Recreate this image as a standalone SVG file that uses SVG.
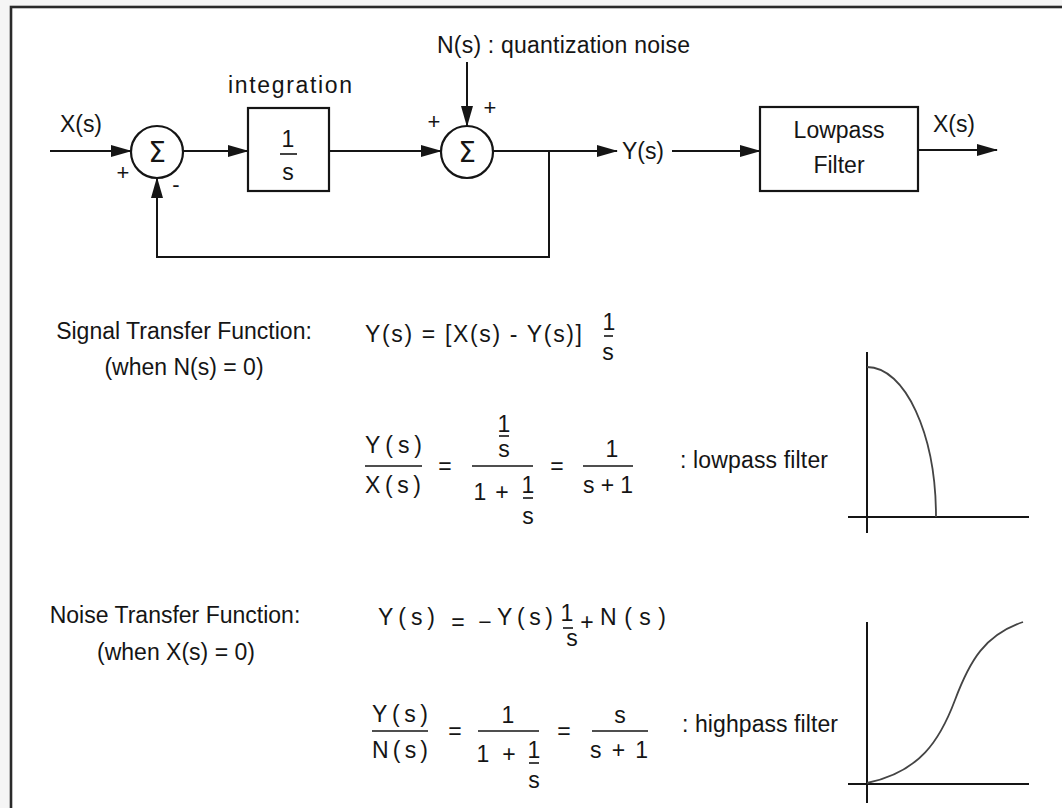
<svg xmlns="http://www.w3.org/2000/svg" width="1062" height="808" viewBox="0 0 1062 808">
<defs>
<style>
.t{font-family:"Liberation Sans",Arial,Helvetica,sans-serif;font-size:23px;fill:#151515}
.m{text-anchor:middle}
.sm{font-size:22px}
.sig{font-family:"DejaVu Sans","Liberation Sans",sans-serif;font-size:28px}
.box{fill:#fff;stroke:#151515;stroke-width:2.2}
.ln{fill:none;stroke:#151515;stroke-width:2}
.bar{stroke:#151515;stroke-width:1.6}
.ax{stroke:#151515;stroke-width:2;fill:none}
.cv{stroke:#444;stroke-width:1.8;fill:none}
</style>
<marker id="ah" markerUnits="userSpaceOnUse" markerWidth="22" markerHeight="14" refX="20" refY="6" orient="auto">
<path d="M0,0 L21,6 L0,12 Z" fill="#151515"/>
</marker>
</defs>
<rect x="0" y="0" width="1062" height="808" fill="#f5f5f5"/>
<rect x="11" y="7" width="1080" height="830" fill="#fff" stroke="#2a2a2a" stroke-width="2.6"/>

<g id="connectors">
<path class="ln" d="M50,151 H131" marker-end="url(#ah)"/>
<path class="ln" d="M183,151 H248" marker-end="url(#ah)"/>
<path class="ln" d="M329,151 H441" marker-end="url(#ah)"/>
<path class="ln" d="M467,62 V126" marker-end="url(#ah)"/>
<path class="ln" d="M493,151 H617" marker-end="url(#ah)"/>
<path class="ln" d="M549,151 V257 H157 V178" marker-end="url(#ah)"/>
<path class="ln" d="M672,151 H760" marker-end="url(#ah)"/>
<path class="ln" d="M918,150 H997" marker-end="url(#ah)"/>
</g>

<g id="input-label"><text class="t" x="60" y="132" textLength="42">X(s)</text></g>

<g id="sum1">
<circle cx="157" cy="152" r="26" class="box"/>
<text class="sig m" x="157" y="162" fill="#151515" style="font-size:28px">Σ</text>
<text class="t m sm" x="123" y="180">+</text>
<text class="t m sm" x="176" y="192">-</text>
</g>

<g id="integrator">
<text class="t" x="228" y="93" font-size="24" textLength="124">integration</text>
<rect x="248" y="108" width="81" height="83" class="box"/>
<text class="t m" x="288" y="147">1</text>
<line class="bar" x1="280" y1="154" x2="297" y2="154"/>
<text class="t m" x="288" y="180">s</text>
</g>

<g id="sum2">
<circle cx="467" cy="152" r="26" class="box"/>
<text class="sig m" x="467" y="162" fill="#151515" style="font-size:28px">Σ</text>
<text class="t m sm" x="434" y="129">+</text>
<text class="t m sm" x="490" y="115">+</text>
<text class="t" x="437" y="53" textLength="253">N(s) : quantization noise</text>
</g>

<g id="output-y"><text class="t" x="622" y="159" textLength="42">Y(s)</text></g>

<g id="lowpass">
<rect x="760" y="107" width="158" height="84" class="box"/>
<text class="t m" x="839" y="138" font-size="25">Lowpass</text>
<text class="t m" x="839" y="173" font-size="25">Filter</text>
</g>

<g id="output-x"><text class="t" x="933" y="132" textLength="42">X(s)</text></g>

<g id="signal-tf">
<text class="t m" x="184" y="339">Signal Transfer Function:</text>
<text class="t m" x="184" y="375">(when N(s) = 0)</text>
<text class="t" x="365" y="342" textLength="217">Y(s) = [X(s) - Y(s)]</text>
<text class="t m" x="609" y="330">1</text>
<line class="bar" x1="604" y1="336" x2="613" y2="336"/>
<text class="t m" x="608" y="360">s</text>

<text class="t" x="365" y="453" textLength="57">Y(s)</text>
<line class="bar" x1="365" y1="466" x2="422" y2="466"/>
<text class="t" x="365" y="493" textLength="56">X(s)</text>
<text class="t m" x="445" y="474">=</text>
<text class="t m" x="504" y="432">1</text>
<line class="bar" x1="499" y1="436" x2="509" y2="436"/>
<text class="t m" x="504" y="457">s</text>
<line class="bar" x1="472" y1="466" x2="533" y2="466"/>
<text class="t m" x="480" y="500">1</text>
<text class="t m" x="502" y="500">+</text>
<text class="t m" x="528" y="493">1</text>
<line class="bar" x1="523" y1="498" x2="533" y2="498"/>
<text class="t m" x="528" y="524">s</text>
<text class="t m" x="557" y="474">=</text>
<text class="t m" x="612" y="457">1</text>
<line class="bar" x1="583" y1="466" x2="633" y2="466"/>
<text class="t" x="583" y="493" textLength="50">s + 1</text>
<text class="t" x="680" y="468" textLength="148">: lowpass filter</text>
</g>

<g id="lowpass-graph">
<line class="ax" x1="867" y1="352" x2="867" y2="533"/>
<line class="ax" x1="848" y1="517" x2="1029" y2="517"/>
<path class="cv" d="M867,367 C905,367 936,434 936,517"/>
</g>

<g id="noise-tf">
<text class="t m" x="175" y="623">Noise Transfer Function:</text>
<text class="t m" x="176" y="660">(when X(s) = 0)</text>
<text class="t" x="378" y="625" textLength="57">Y(s)</text>
<text class="t m" x="458" y="630">=</text>
<text class="t m" x="485" y="630">−</text>
<text class="t" x="497" y="625" textLength="56">Y(s)</text>
<text class="t m" x="567" y="621">1</text>
<line class="bar" x1="563" y1="628" x2="573" y2="628"/>
<text class="t m" x="572" y="646">s</text>
<text class="t m" x="587" y="630">+</text>
<text class="t" x="600" y="625" textLength="66">N(s)</text>

<text class="t" x="372" y="722" textLength="56">Y(s)</text>
<line class="bar" x1="372" y1="731" x2="428" y2="731"/>
<text class="t" x="372" y="758" textLength="56">N(s)</text>
<text class="t m" x="455" y="739">=</text>
<text class="t m" x="508" y="723">1</text>
<line class="bar" x1="478" y1="731" x2="539" y2="731"/>
<text class="t m" x="483" y="762">1</text>
<text class="t m" x="509" y="762">+</text>
<text class="t m" x="534" y="758">1</text>
<line class="bar" x1="529" y1="763" x2="539" y2="763"/>
<text class="t m" x="534" y="788">s</text>
<text class="t m" x="564" y="739">=</text>
<text class="t m" x="620" y="723">s</text>
<line class="bar" x1="592" y1="731" x2="648" y2="731"/>
<text class="t" x="590" y="758" textLength="58">s + 1</text>
<text class="t" x="682" y="732" textLength="156">: highpass filter</text>
</g>

<g id="highpass-graph">
<line class="ax" x1="867" y1="622" x2="867" y2="803"/>
<line class="ax" x1="848" y1="784" x2="1029" y2="784"/>
<path class="cv" d="M867,783 C920,772 940,740 955,700 S985,635 1023,622"/>
</g>
</svg>
